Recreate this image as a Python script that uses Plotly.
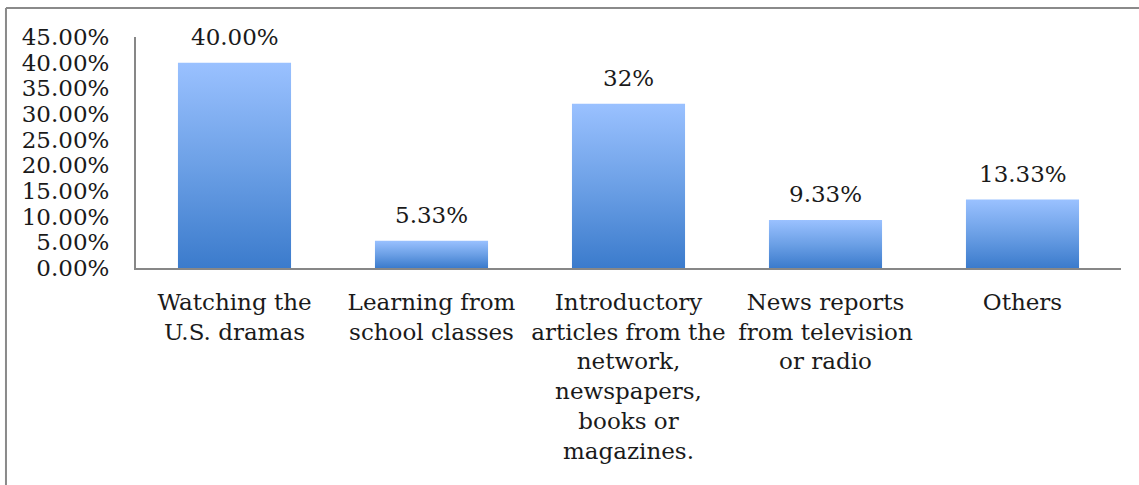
import plotly.graph_objects as go

# Survey: channels through which respondents learned about the topic
categories = [
    "Watching the<br>U.S. dramas",
    "Learning from<br>school classes",
    "Introductory<br>articles from the<br>network,<br>newspapers,<br>books or<br>magazines.",
    "News reports<br>from television<br>or radio",
    "Others",
]
shares = [0.40, 0.0533, 0.32, 0.0933, 0.1333]
share_labels = ["40.00%", "5.33%", "32%", "9.33%", "13.33%"]
y_ticks = [0.0, 0.05, 0.10, 0.15, 0.20, 0.25, 0.30, 0.35, 0.40, 0.45]

FONT = "DejaVu Serif"
TEXT = "#1a1a1a"
AXIS = "#878787"
BAR_TOP = "#9ac1ff"
BAR_BOTTOM = "#3b7bcc"
HALF_WIDTH = 0.287

fig = go.Figure()

# Each bar is a filled rectangle so it can carry a vertical gradient
for i, v in enumerate(shares):
    fig.add_trace(go.Scatter(
        x=[i - HALF_WIDTH, i + HALF_WIDTH, i + HALF_WIDTH, i - HALF_WIDTH, i - HALF_WIDTH],
        y=[0, 0, v, v, 0],
        mode="lines",
        line=dict(width=0, color=BAR_BOTTOM),
        fill="toself",
        fillgradient=dict(
            type="vertical",
            colorscale=[[0, BAR_BOTTOM], [0.5, "#6ca0e6"], [1, BAR_TOP]],
        ),
        hoverinfo="skip",
        showlegend=False,
    ))

# Value labels above the bars
for i, (v, lab) in enumerate(zip(shares, share_labels)):
    fig.add_annotation(
        x=i, y=v, text=lab, showarrow=False,
        xref="x", yref="y", yanchor="bottom", yshift=11,
        font=dict(family=FONT, size=23, color=TEXT),
    )

fig.update_layout(
    width=1139, height=485,
    margin=dict(l=136, r=18, t=37, b=217),
    paper_bgcolor="white", plot_bgcolor="white",
    font=dict(family=FONT, size=23, color=TEXT),
    showlegend=False,
    xaxis=dict(
        range=[-0.5, 4.5],
        tickmode="array",
        tickvals=list(range(len(categories))),
        ticktext=categories,
        showgrid=False, zeroline=False,
        showline=True, linecolor=AXIS, linewidth=2,
        ticks="", ticklabelstandoff=12,
        fixedrange=True,
    ),
    yaxis=dict(
        range=[0, 0.45],
        tickmode="array",
        tickvals=y_ticks,
        tickformat=".2%",
        showgrid=False, zeroline=False,
        showline=True, linecolor=AXIS, linewidth=2,
        ticks="", ticklabelstandoff=20,
        fixedrange=True,
    ),
    shapes=[
        # frame around the chart area (left and top edges)
        dict(type="line", xref="paper", yref="paper",
             x0=-0.132, x1=1.1, y0=1.1255, y1=1.1255,
             line=dict(color="#8a8a8a", width=2)),
        dict(type="line", xref="paper", yref="paper",
             x0=-0.132, x1=-0.132, y0=1.1255, y1=-1.2,
             line=dict(color="#8a8a8a", width=2)),
    ],
)

fig.write_html("out.html", config={"displayModeBar": False})
